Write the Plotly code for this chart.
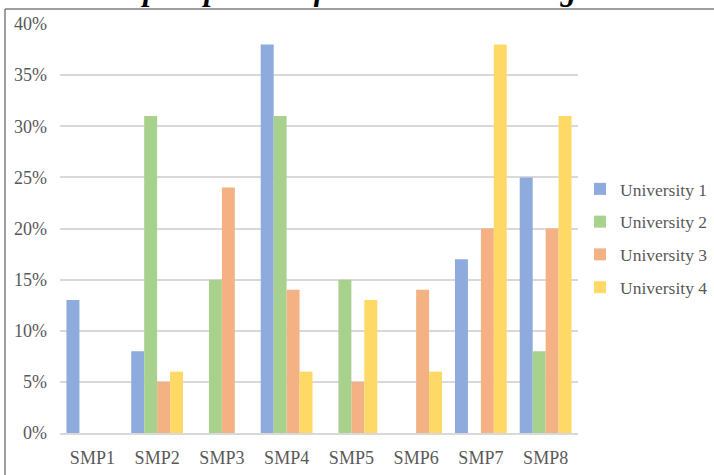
import plotly.graph_objects as go

categories = ["SMP1", "SMP2", "SMP3", "SMP4", "SMP5", "SMP6", "SMP7", "SMP8"]
series_names = ["University 1", "University 2", "University 3", "University 4"]
university_1 = [13, 8, 0, 38, 0, 0, 17, 25]
university_2 = [0, 31, 15, 31, 15, 0, 0, 8]
university_3 = [0, 5, 24, 14, 5, 14, 20, 20]
university_4 = [0, 6, 0, 6, 13, 6, 38, 31]
colors = ["#8FAADC", "#A9D18E", "#F4B183", "#FFD966"]
title_text = "Follow-up responses of Practices – Scaling Practice"

fig = go.Figure()
for name, vals, col in zip(series_names, [university_1, university_2, university_3, university_4], colors):
    fig.add_trace(go.Bar(x=categories, y=vals, name=name, marker=dict(color=col, line=dict(width=0)),
                         legendgroup=name))

W, H = 714, 475
ml, mr, mt, mb = 60, 136, 24, 42
pw, ph = W - ml - mr, H - mt - mb

def px_x(px):
    return (px - ml) / pw

def px_y(py):
    return 1 - (py - mt) / ph

font = "Liberation Serif, Times New Roman, serif"
fig.update_layout(
    template="none",
    width=W, height=H,
    margin=dict(l=ml, r=mr, t=mt, b=mb, autoexpand=False),
    paper_bgcolor="white", plot_bgcolor="white",
    barmode="group", bargap=0.2, bargroupgap=0,
    font=dict(family=font, size=18, color="#595959"),
    showlegend=True,
    legend=dict(x=px_x(580), xanchor="left", y=px_y(238), yanchor="middle",
                font=dict(family=font, size=17.5, color="#595959"),
                tracegroupgap=7, itemwidth=30, bgcolor="rgba(0,0,0,0)", borderwidth=0),
    xaxis=dict(showgrid=False, showline=True, linecolor="#D9D9D9", linewidth=1.5,
               ticks="", automargin=False, ticklabelstandoff=8,
               tickfont=dict(family=font, size=18, color="#595959")),
    yaxis=dict(range=[0, 40], dtick=5, ticksuffix="%", showgrid=True, gridcolor="#D9D9D9",
               gridwidth=1.5, zeroline=False, showline=False, ticks="", automargin=False,
               ticklabelstandoff=12,
               tickfont=dict(family=font, size=18, color="#595959")),
    shapes=[
        dict(type="line", xref="paper", yref="paper", x0=px_x(5), x1=px_x(5), y0=px_y(9), y1=px_y(480),
             line=dict(color="#7F7F7F", width=1.5)),
        dict(type="line", xref="paper", yref="paper", x0=px_x(5), x1=px_x(720), y0=px_y(9), y1=px_y(9),
             line=dict(color="#7F7F7F", width=1.5)),
    ],
    annotations=[
        dict(text="<b><i>" + title_text + "</i></b>", xref="paper", yref="paper",
             x=px_x(357), y=px_y(9), xanchor="center", yanchor="bottom", showarrow=False,
             font=dict(family=font, size=31, color="#000000")),
    ],
)

fig.write_html("out.html", config={"displayModeBar": False},
               post_script="document.body.style.margin='0';document.body.style.overflow='hidden';")
